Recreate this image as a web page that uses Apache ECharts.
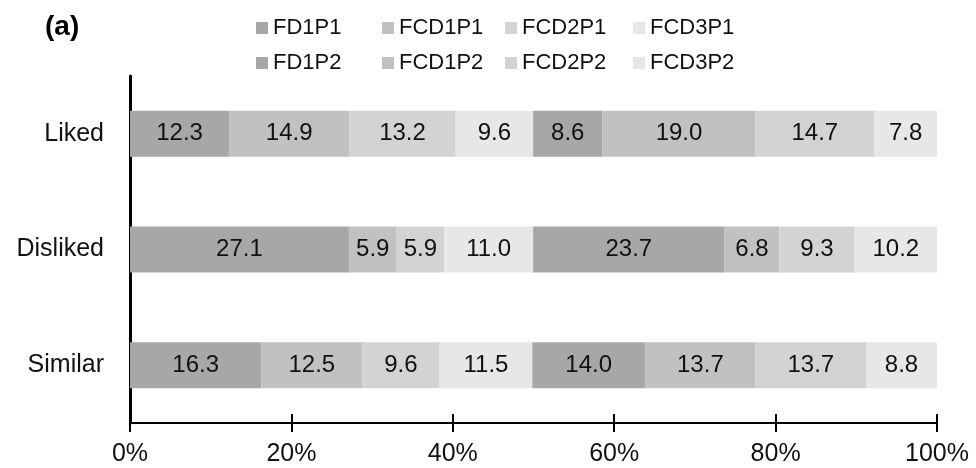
<!DOCTYPE html>
<html>
<head>
<meta charset="utf-8">
<script src="https://cdn.jsdelivr.net/npm/echarts@6/dist/echarts.min.js"></script>
<style>
  html, body { margin: 0; padding: 0; background: #fff; }
  #chart { width: 976px; height: 468px; }
</style>
</head>
<body>
<div id="chart"></div>
<script>
// categories, top to bottom
const categories = ['Liked', 'Disliked', 'Similar'];

const seriesNames = ['FD1P1', 'FCD1P1', 'FCD2P1', 'FCD3P1', 'FD1P2', 'FCD1P2', 'FCD2P2', 'FCD3P2'];

// values per series, in category order (Liked, Disliked, Similar)
const FD1P1 = [12.3, 27.1, 16.3];
const FCD1P1 = [14.9, 5.9, 12.5];
const FCD2P1 = [13.2, 5.9, 9.6];
const FCD3P1 = [9.6, 11.0, 11.5];
const FD1P2 = [8.6, 23.7, 14.0];
const FCD1P2 = [19.0, 6.8, 13.7];
const FCD2P2 = [14.7, 9.3, 13.7];
const FCD3P2 = [7.8, 10.2, 8.8];

const xTicks = [0, 20, 40, 60, 80, 100];

const values = [FD1P1, FCD1P1, FCD2P1, FCD3P1, FD1P2, FCD1P2, FCD2P2, FCD3P2];
const colors = ['#a6a7a9', '#c0c1c0', '#d3d3d3', '#e6e7e6', '#a6a7a9', '#c0c1c0', '#d3d3d3', '#e6e7e6'];

// 100% stacked: share of each row total
const totals = categories.map((c, i) => values.reduce((s, arr) => s + arr[i], 0));

const font = '"Liberation Sans", Arial, sans-serif';

const legendLeft = [251, 377, 500, 628];
const legends = seriesNames.map((name, i) => ({
  data: [name],
  left: legendLeft[i % 4],
  top: i < 4 ? 12 : 47,
  itemWidth: 12,
  itemHeight: 12,
  icon: 'rect',
  itemGap: 0,
  selectedMode: false,
  textStyle: { fontFamily: font, fontSize: 22, color: '#111' }
}));

const myChart = echarts.init(document.getElementById('chart'));

const option = {
  animation: false,
  backgroundColor: '#fff',
  title: {
    text: '(a)',
    left: 40,
    top: 8,
    textStyle: { fontFamily: font, fontSize: 28, fontWeight: 'bold', color: '#000' }
  },
  legend: legends,
  grid: { left: 130, right: 39, top: 76, bottom: 45 },
  xAxis: [
    {
      type: 'value',
      min: 0,
      max: 100,
      interval: 20,
      axisLine: { show: true, lineStyle: { color: '#000', width: 2 } },
      axisTick: { show: true, length: 9, lineStyle: { color: '#000', width: 2 } },
      axisLabel: {
        margin: 19,
        fontFamily: font,
        fontSize: 25,
        color: '#111',
        formatter: v => xTicks.includes(v) ? v + '%' : ''
      },
      splitLine: { show: false }
    },
    {
      type: 'value',
      position: 'bottom',
      offset: 0,
      min: 0,
      max: 100,
      interval: 20,
      axisLine: { show: false },
      axisTick: { show: true, inside: true, length: 9, lineStyle: { color: '#000', width: 2 } },
      axisLabel: { show: false },
      splitLine: { show: false }
    }
  ],
  yAxis: {
    type: 'category',
    inverse: true,
    data: categories,
    axisLine: { show: true, lineStyle: { color: '#000', width: 3 } },
    axisTick: { show: false },
    axisLabel: { margin: 26, fontFamily: font, fontSize: 25, color: '#111' }
  },
  series: seriesNames.map((name, s) => ({
    name: name,
    type: 'bar',
    stack: 'total',
    barWidth: 46,
    itemStyle: { color: colors[s] },
    label: {
      show: true,
      position: 'inside',
      fontFamily: font,
      fontSize: 24,
      color: '#111',
      formatter: p => values[s][p.dataIndex].toFixed(1)
    },
    data: values[s].map((v, i) => v / totals[i] * 100)
  }))
};

myChart.setOption(option);
</script>
</body>
</html>
